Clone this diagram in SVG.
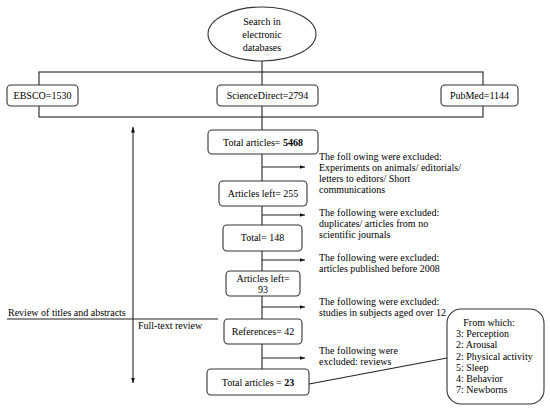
<svg xmlns="http://www.w3.org/2000/svg" width="550" height="408" viewBox="0 0 550 408">
<defs>
<style>
text{font-family:"Liberation Serif","Times New Roman",serif;font-size:10px;fill:#000}
.c{text-anchor:middle}
.b{font-weight:bold}
.box{fill:#fff;stroke:#333;stroke-width:1.1}
.ln{fill:none;stroke:#222;stroke-width:1.1}
</style>
<marker id="ah" viewBox="0 0 6 6" refX="6" refY="3" markerWidth="5" markerHeight="5" orient="auto-start-reverse">
<path d="M0,0.8 L6,3 L0,5.2 z" fill="#111"/>
</marker>
</defs>
<rect width="550" height="408" fill="#fff"/>
<g id="connectors">
<line class="ln" x1="262" y1="61" x2="262" y2="130"/>
<rect class="ln" x="39" y="72" width="444" height="45"/>
<line class="ln" x1="262" y1="154" x2="262" y2="369"/>
<line class="ln" x1="262" y1="167" x2="305" y2="167" marker-end="url(#ah)"/>
<line class="ln" x1="262" y1="215" x2="305" y2="215" marker-end="url(#ah)"/>
<line class="ln" x1="262" y1="260" x2="305" y2="260" marker-end="url(#ah)"/>
<line class="ln" x1="262" y1="307" x2="305" y2="307" marker-end="url(#ah)"/>
<line class="ln" x1="262" y1="358" x2="305" y2="358" marker-end="url(#ah)"/>
<line class="ln" x1="133" y1="127" x2="133" y2="383" marker-start="url(#ah)" marker-end="url(#ah)"/>
<line class="ln" x1="7" y1="319" x2="218" y2="319"/>
<line class="ln" x1="309" y1="384" x2="447" y2="358"/>
</g>
<g id="search">
<ellipse class="box" cx="262" cy="34" rx="54" ry="27"/>
<text class="c" x="262" y="25">Search in</text>
<text class="c" x="262" y="38">electronic</text>
<text class="c" x="262" y="51">databases</text>
</g>
<g id="ebsco">
<rect class="box" x="7" y="85" width="71" height="21" rx="4"/>
<text class="c" x="42.5" y="99">EBSCO=1530</text>
</g>
<g id="sciencedirect">
<rect class="box" x="217" y="85" width="101" height="21" rx="4"/>
<text class="c" x="267.5" y="99">ScienceDirect=2794</text>
</g>
<g id="pubmed">
<rect class="box" x="441" y="85" width="77" height="21" rx="4"/>
<text class="c" x="479.5" y="99">PubMed=1144</text>
</g>
<g id="total5468">
<rect class="box" x="208" y="130" width="110" height="24" rx="4"/>
<text class="c" x="263" y="145.5">Total articles=  <tspan class="b">5468</tspan></text>
</g>
<g id="excl1">
<text x="319" y="160">The foll owing were excluded:</text>
<text x="319" y="171">Experiments on animals/ editorials/</text>
<text x="319" y="182">letters to editors/ Short</text>
<text x="319" y="193">communications</text>
</g>
<g id="left255">
<rect class="box" x="219" y="181" width="88" height="25" rx="4"/>
<text class="c" x="263" y="197">Articles  left= 255</text>
</g>
<g id="excl2">
<text x="319" y="216">The following were excluded:</text>
<text x="319" y="227">duplicates/ articles from no</text>
<text x="319" y="238">scientific journals</text>
</g>
<g id="total148">
<rect class="box" x="223" y="225" width="79" height="26" rx="4"/>
<text class="c" x="262.5" y="241">Total= 148</text>
</g>
<g id="excl3">
<text x="319" y="261">The following were excluded:</text>
<text x="319" y="272">articles published before 2008</text>
</g>
<g id="left93">
<rect class="box" x="226" y="271" width="74" height="25" rx="4"/>
<text class="c" x="263" y="282">Articles  left=</text>
<text class="c" x="263" y="293">93</text>
</g>
<g id="excl4">
<text x="319" y="305">The following were excluded:</text>
<text x="319" y="316">studies in subjects aged over 12</text>
</g>
<g id="phases">
<text x="8" y="316">Review  of titles and abstracts</text>
<text x="138" y="329">Full-text review</text>
</g>
<g id="refs42">
<rect class="box" x="224" y="319" width="78" height="25" rx="4"/>
<text class="c" x="263" y="335">References=  42</text>
</g>
<g id="excl5">
<text x="319" y="354">The following were</text>
<text x="319" y="365">excluded: reviews</text>
</g>
<g id="total23">
<rect class="box" x="207" y="369" width="102" height="26" rx="4"/>
<text class="c" x="258" y="386">Total articles  = <tspan class="b">23</tspan></text>
</g>
<g id="fromwhich">
<rect class="box" x="447" y="309" width="97" height="95" rx="14"/>
<text class="c" x="489" y="326">From which:</text>
<text x="456" y="337">3: Perception</text>
<text x="456" y="348">2: Arousal</text>
<text x="456" y="360">2: Physical activity</text>
<text x="456" y="371">5: Sleep</text>
<text x="456" y="382">4: Behavior</text>
<text x="456" y="393">7: Newborns</text>
</g>
</svg>
